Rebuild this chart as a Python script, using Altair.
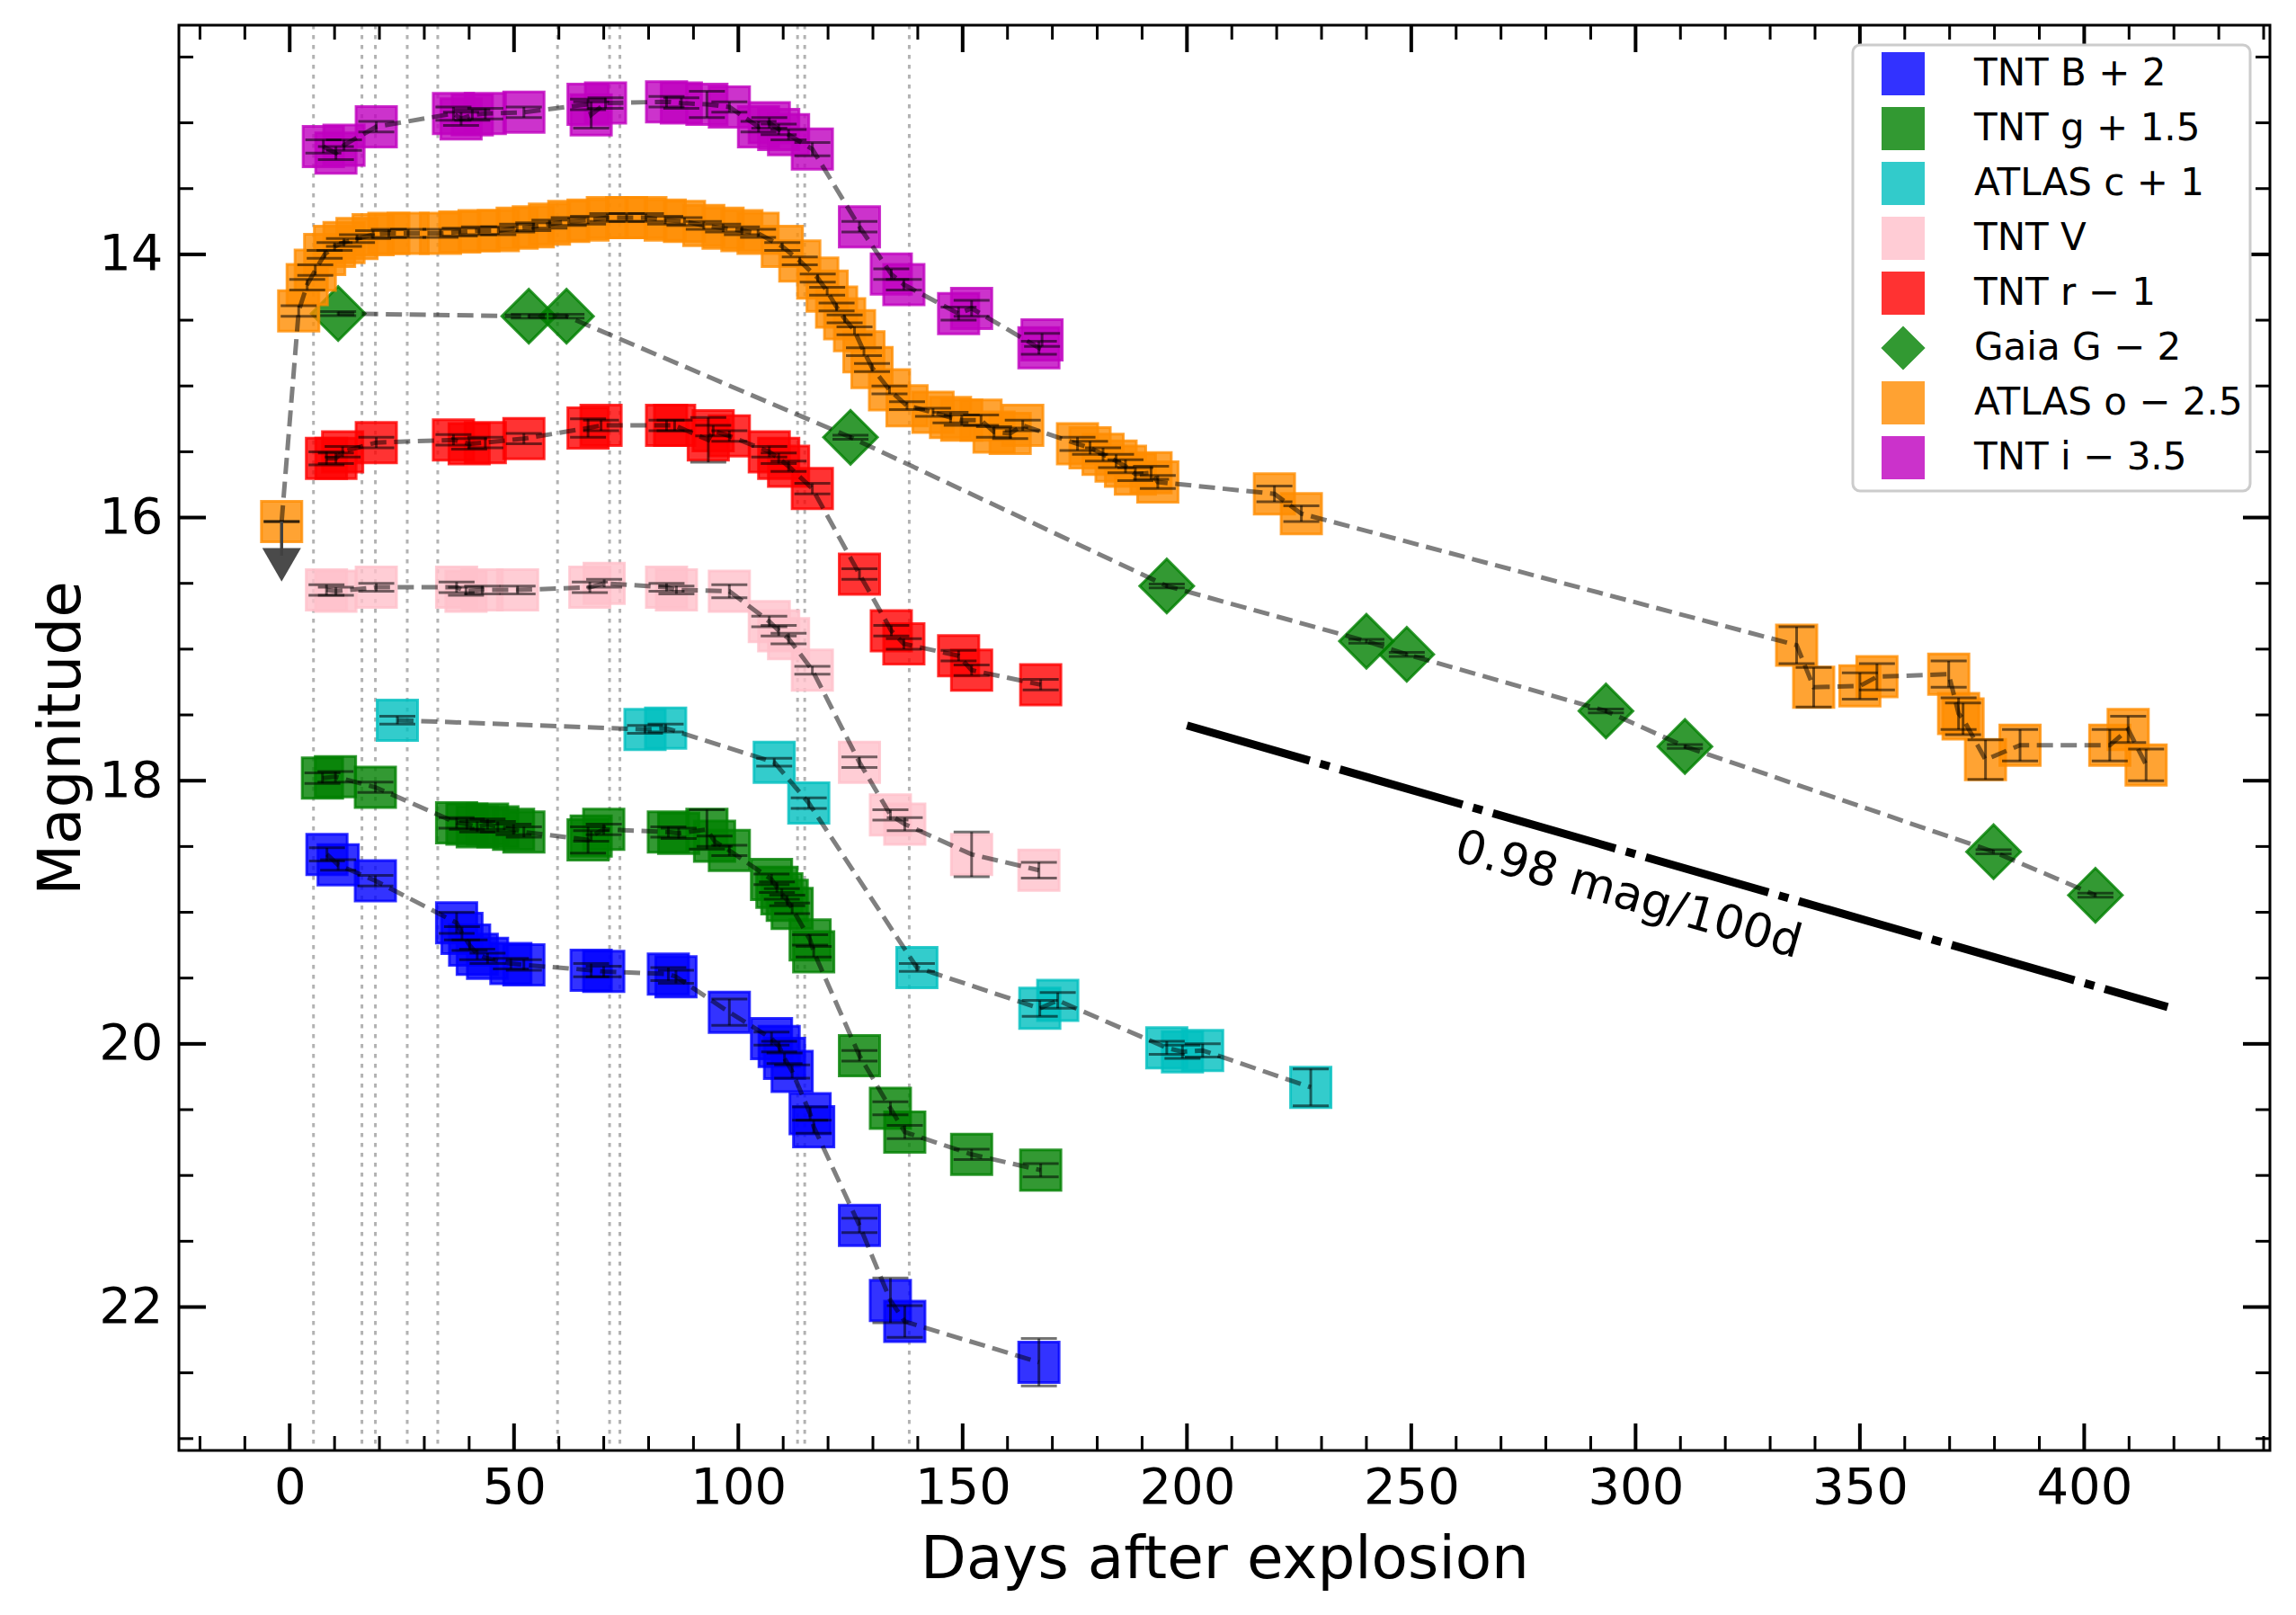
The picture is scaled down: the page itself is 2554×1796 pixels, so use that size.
import altair as alt
import pandas as pd

# ---------------- data ----------------
SERIES = ["TNT B + 2", "TNT g + 1.5", "ATLAS c + 1", "TNT V", "TNT r − 1",
          "Gaia G − 2", "ATLAS o − 2.5", "TNT i − 3.5"]
COLORS = ["#0000ff", "#008000", "#00bfbf", "#ffc0cb", "#ff0000",
          "#008000", "#ff8c00", "#bf00bf"]
SHAPES = ["square", "square", "square", "square", "square",
          "diamond", "square", "square"]

B_DAY = [8.3, 10.8, 19.1, 37.2, 38.4, 40.1, 41.8, 44.1, 49.3, 52.2, 67.2, 70.0, 84.4, 86.1,
         98.0, 107.4, 109.1, 110.3, 112.0, 116.0, 116.8, 127.0, 133.9, 137.1, 167.0]
B_MAG = [18.56, 18.64, 18.76, 19.08, 19.16, 19.25, 19.32, 19.35, 19.39, 19.40, 19.44, 19.45,
         19.47, 19.49, 19.76, 19.96, 20.02, 20.11, 20.21, 20.53, 20.63, 21.38, 21.95, 22.11, 22.42]
B_ERR = [0.05, 0.04, 0.04, 0.08, 0.05, 0.04, 0.04, 0.04, 0.04, 0.04, 0.05, 0.04, 0.05, 0.05,
         0.1, 0.05, 0.04, 0.04, 0.05, 0.05, 0.05, 0.055, 0.17, 0.12, 0.18]

G_DAY = [7.3, 10.2, 19.1, 37.2, 39.5, 41.8, 44.1, 46.4, 49.9, 52.2, 66.5, 67.2, 70.0, 84.4,
         86.7, 93.0, 94.7, 98.0, 107.4, 108.6, 109.7, 110.9, 112.0, 116.0, 116.8, 127.0,
         133.9, 137.1, 152.0, 167.4]
G_MAG = [17.98, 17.97, 18.05, 18.32, 18.33, 18.35, 18.33, 18.35, 18.37, 18.39, 18.45, 18.42,
         18.37, 18.39, 18.40, 18.37, 18.46, 18.53, 18.75, 18.81, 18.86, 18.91, 18.97, 19.21,
         19.30, 20.09, 20.49, 20.67, 20.84, 20.96]
G_ERR = [0.04, 0.04, 0.04, 0.04, 0.04, 0.04, 0.04, 0.04, 0.04, 0.04, 0.1, 0.04, 0.04, 0.04,
         0.04, 0.15, 0.04, 0.04, 0.04, 0.04, 0.04, 0.04, 0.04, 0.04, 0.04, 0.04, 0.05, 0.05,
         0.04, 0.05]

C_DAY = [24.0, 79.2, 83.8, 108.0, 115.7, 139.8, 167.2, 171.2, 195.5, 199.0, 203.5, 227.6]
C_MAG = [17.54, 17.61, 17.60, 17.86, 18.17, 19.42, 19.73, 19.67, 20.03, 20.06, 20.05, 20.33]
C_ERR = [0.03, 0.03, 0.03, 0.03, 0.04, 0.03, 0.06, 0.06, 0.05, 0.05, 0.05, 0.14]

V_DAY = [8.2, 10.3, 19.3, 37.2, 39.3, 42.9, 50.8, 66.9, 70.1, 84.0, 86.2, 98.0, 106.9, 109.0,
         111.2, 116.5, 127.0, 133.9, 137.1, 152.0, 167.0]
V_MAG = [16.55, 16.56, 16.53, 16.53, 16.56, 16.55, 16.55, 16.53, 16.50, 16.53, 16.55, 16.56,
         16.79, 16.86, 16.92, 17.16, 17.86, 18.26, 18.33, 18.56, 18.68]
V_ERR = [0.04, 0.03, 0.03, 0.04, 0.03, 0.03, 0.03, 0.04, 0.03, 0.03, 0.03, 0.05, 0.04, 0.04,
         0.04, 0.03, 0.04, 0.04, 0.05, 0.17, 0.06]

R_DAY = [8.2, 10.3, 11.8, 19.3, 36.5, 40.0, 43.6, 52.2, 66.5, 69.4, 84.0, 85.8, 93.3, 94.4,
         98.0, 106.9, 109.0, 111.2, 116.5, 127.0, 134.1, 136.9, 149.1, 152.0, 167.4]
R_MAG = [15.55, 15.55, 15.50, 15.43, 15.41, 15.44, 15.43, 15.40, 15.32, 15.30, 15.30, 15.30,
         15.41, 15.34, 15.38, 15.50, 15.55, 15.61, 15.78, 16.43, 16.86, 16.96, 17.05, 17.16, 17.27]
R_ERR = [0.05, 0.04, 0.04, 0.04, 0.04, 0.04, 0.04, 0.04, 0.07, 0.04, 0.04, 0.04, 0.17, 0.04,
         0.04, 0.04, 0.04, 0.04, 0.04, 0.04, 0.04, 0.04, 0.04, 0.04, 0.04]

GAIA_DAY = [10.8, 53.3, 61.7, 125.0, 195.5, 240.0, 249.0, 293.4, 311.0, 379.8, 402.5]
GAIA_MAG = [14.45, 14.47, 14.47, 15.39, 16.52, 16.94, 17.04, 17.47, 17.74, 18.54, 18.87]
GAIA_ERR = [0.015, 0.015, 0.015, 0.015, 0.015, 0.015, 0.015, 0.015, 0.015, 0.015, 0.015]

O_DAY = [-1.8, 2.0, 3.9, 5.7, 7.8, 10.0, 12.1, 15.0, 18.6, 22.1, 26.4, 33.6, 37.9, 42.2, 46.5,
         50.7, 54.3, 57.9, 62.2, 66.5, 70.8, 75.1, 79.4, 83.7, 88.0, 92.3, 96.6, 100.8, 104.4,
         109.8, 113.7, 117.7, 119.8, 121.9, 123.7, 125.9, 128.0, 129.8, 133.7, 137.6,
         143.4, 147.3, 149.8, 154.1, 157.0, 160.6, 163.4,
         175.6, 178.4, 181.3, 184.2, 186.3, 188.5, 192.0, 193.5,
         219.5, 225.5,
         335.9, 339.7, 350.0, 353.8, 369.8, 372.0, 373.0, 378.0, 385.7, 405.7, 409.8, 413.8]
O_MAG = [16.03, 14.43, 14.23, 14.12, 14.00, 13.94, 13.91, 13.88, 13.85, 13.84, 13.84, 13.84,
         13.83, 13.82, 13.82, 13.80, 13.79, 13.77, 13.75, 13.74, 13.72, 13.72, 13.72, 13.74,
         13.75, 13.78, 13.80, 13.82, 13.84,
         13.94, 14.05, 14.18, 14.28, 14.40, 14.49, 14.58, 14.74, 14.86, 15.03, 15.15,
         15.20, 15.24, 15.26, 15.26, 15.35, 15.36, 15.30,
         15.44, 15.47, 15.52, 15.57, 15.61, 15.67, 15.66, 15.73,
         15.82, 15.97,
         16.97, 17.29, 17.28, 17.21, 17.19, 17.49, 17.53, 17.84, 17.73, 17.73, 17.61, 17.88]
O_ERR = [0.0, 0.04, 0.04, 0.04, 0.03, 0.03, 0.03, 0.03, 0.03, 0.03, 0.03, 0.03, 0.03, 0.03,
         0.03, 0.03, 0.03, 0.03, 0.03, 0.03, 0.03, 0.03, 0.03, 0.03, 0.03, 0.03, 0.03, 0.03, 0.03,
         0.03, 0.03, 0.03, 0.03, 0.03, 0.03, 0.03, 0.03, 0.03, 0.03, 0.03,
         0.03, 0.04, 0.04, 0.04, 0.04, 0.04, 0.04,
         0.05, 0.05, 0.05, 0.05, 0.05, 0.05, 0.05, 0.05,
         0.06, 0.06,
         0.14, 0.15, 0.1, 0.1, 0.1, 0.12, 0.12, 0.15, 0.12, 0.12, 0.1, 0.12]

I_DAY = [7.5, 10.3, 12.1, 19.3, 36.5, 38.2, 40.7, 43.6, 52.2, 66.5, 67.2, 70.4, 84.0, 87.3,
         93.0, 98.0, 104.5, 106.9, 109.0, 111.2, 116.5, 127.0, 134.1, 136.9, 149.1, 152.0,
         167.0, 167.7]
I_MAG = [13.18, 13.23, 13.17, 13.03, 12.93, 12.97, 12.94, 12.93, 12.92, 12.86, 12.94, 12.85,
         12.84, 12.85, 12.86, 12.88, 13.03, 13.00, 13.05, 13.09, 13.20, 13.79, 14.15, 14.23,
         14.45, 14.41, 14.71, 14.65]
I_ERR = [0.05, 0.05, 0.04, 0.04, 0.05, 0.05, 0.04, 0.04, 0.04, 0.04, 0.1, 0.04, 0.04, 0.04,
         0.1, 0.04, 0.04, 0.04, 0.04, 0.04, 0.05, 0.04, 0.04, 0.04, 0.05, 0.06, 0.05, 0.05]

# upper limit (ATLAS o, before detection)
UL_DAY = [-1.8]
UL_MAG = [16.03]

# epochs marked by vertical dotted lines
VLINE_DAYS = [5.3, 16.1, 19.1, 26.2, 33.0, 59.7, 71.3, 73.6, 113.2, 114.8, 138.1]

# decline-rate guide line and its label
DECAY_DAY = [200.0, 418.6]
DECAY_MAG = [17.58, 19.72]
ANNOT_DAY = [298.4]
ANNOT_MAG = [18.87]
ANNOT_TEXT = ["0.98 mag/100d"]

# axis ticks
X_MAJOR = [0, 50, 100, 150, 200, 250, 300, 350, 400]
X_MINOR = [-20, -10, 10, 20, 30, 40, 60, 70, 80, 90, 110, 120, 130, 140, 160, 170, 180, 190,
           210, 220, 230, 240, 260, 270, 280, 290, 310, 320, 330, 340, 360, 370, 380, 390,
           410, 420, 430, 440]
Y_MAJOR = [14, 16, 18, 20, 22]
Y_MINOR = [12.5, 13.0, 13.5, 14.5, 15.0, 15.5, 16.5, 17.0, 17.5, 18.5, 19.0, 19.5,
           20.5, 21.0, 21.5, 22.5, 23.0]

# ---------------- build tables ----------------
groups = [(SERIES[0], B_DAY, B_MAG, B_ERR), (SERIES[1], G_DAY, G_MAG, G_ERR),
          (SERIES[2], C_DAY, C_MAG, C_ERR), (SERIES[3], V_DAY, V_MAG, V_ERR),
          (SERIES[4], R_DAY, R_MAG, R_ERR), (SERIES[5], GAIA_DAY, GAIA_MAG, GAIA_ERR),
          (SERIES[6], O_DAY, O_MAG, O_ERR), (SERIES[7], I_DAY, I_MAG, I_ERR)]
frames = [pd.DataFrame({"series": n, "day": d, "mag": m, "err": e}) for n, d, m, e in groups]
df = pd.concat(frames, ignore_index=True)
df["lo"] = df["mag"] - df["err"]
df["hi"] = df["mag"] + df["err"]

W, H = 2326, 1585
FONT = "DejaVu Sans"

xscale = alt.Scale(domain=[-24.7, 441.4], nice=False, zero=False)
yscale = alt.Scale(domain=[12.258, 23.09], reverse=True, nice=False, zero=False)

xaxis = alt.Axis(values=X_MAJOR, ticks=False, domain=False, grid=False,
                 labelFontSize=56, labelPadding=14, labelFont=FONT, labelColor="black",
                 title="Days after explosion", titleFontSize=66, titleFontWeight="normal",
                 titleFont=FONT, titleColor="black", titleBaseline="alphabetic",
                 titleX=W / 2, titleY=141, titleAlign="center")
yaxis = alt.Axis(values=Y_MAJOR, ticks=False, domain=False, grid=False,
                 labelFontSize=56, labelPadding=18, labelFont=FONT, labelColor="black",
                 title="Magnitude", titleFontSize=66, titleFontWeight="normal",
                 titleFont=FONT, titleColor="black", titleAngle=270,
                 titleBaseline="alphabetic", titleX=-111, titleY=H / 2, titleAlign="center")


def X(field):
    return alt.X(field, type="quantitative", scale=xscale, axis=xaxis)


def Y(field):
    return alt.Y(field, type="quantitative", scale=yscale, axis=yaxis)


leg = alt.Legend(title=None)
color_scale = alt.Scale(domain=SERIES, range=COLORS)
shape_scale = alt.Scale(domain=SERIES, range=SHAPES)

vlines = alt.Chart(pd.DataFrame({"day": VLINE_DAYS})).mark_rule(
    color="black", opacity=0.3, strokeWidth=3, strokeDash=[4.5, 6.5]
).encode(x=X("day"))

points = alt.Chart(df).mark_point(
    filled=True, fillOpacity=0.8, strokeOpacity=0.8, strokeWidth=3
).encode(
    x=X("day"), y=Y("mag"),
    color=alt.Color("series:N", scale=color_scale, legend=leg),
    stroke=alt.Stroke("series:N", scale=color_scale, legend=leg),
    shape=alt.Shape("series:N", scale=shape_scale, legend=leg),
    size=alt.condition(alt.datum.series == "Gaia G − 2", alt.value(3600), alt.value(2025)),
)

errbars = alt.Chart(df).mark_rule(color="black", opacity=0.55, strokeWidth=3).encode(
    x=X("day"), y=Y("lo"), y2="hi"
)
caps = alt.Chart(df).transform_fold(["lo", "hi"], as_=["k", "v"]).mark_tick(
    orient="horizontal", size=40, thickness=3, color="black", opacity=0.55
).encode(x=X("day"), y=Y("v"))

lines = alt.Chart(df).mark_line(
    color="black", opacity=0.5, strokeWidth=5, strokeDash=[18, 8.5]
).encode(x=X("day"), y=Y("mag"), detail="series:N", order="day:Q")

ul = pd.DataFrame({"day": UL_DAY, "mag": UL_MAG})
ul_rule = alt.Chart(ul).transform_calculate(end="datum.mag + 0.26").mark_rule(
    color="#404040", strokeWidth=3.5
).encode(x=X("day"), y=Y("mag"), y2="end:Q")
ul_tri = alt.Chart(ul).transform_calculate(tip="datum.mag + 0.33").mark_point(
    shape="triangle-down", filled=True, size=1850, color="#404040", opacity=0.95
).encode(x=X("day"), y=Y("tip"))

decay = alt.Chart(pd.DataFrame({"day": DECAY_DAY, "mag": DECAY_MAG})).mark_line(
    color="black", strokeWidth=9, strokeDash=[142, 12, 11, 12]
).encode(x=X("day"), y=Y("mag"))

annot = alt.Chart(pd.DataFrame({"day": ANNOT_DAY, "mag": ANNOT_MAG, "t": ANNOT_TEXT})).mark_text(
    angle=16, fontSize=52, font=FONT, color="black", align="center", baseline="middle"
).encode(x=X("day"), y=Y("mag"), text="t:N")

# inward ticks on all four sides
xmaj = alt.Chart(pd.DataFrame({"t": X_MAJOR}))
xmin = alt.Chart(pd.DataFrame({"t": X_MINOR}))
ymaj = alt.Chart(pd.DataFrame({"t": Y_MAJOR}))
ymin = alt.Chart(pd.DataFrame({"t": Y_MINOR}))
LMAJ, LMIN = 30, 16
tick_layers = [
    xmaj.mark_rule(color="black", strokeWidth=4).encode(x=X("t"), y=alt.value(H), y2=alt.value(H - LMAJ)),
    xmin.mark_rule(color="black", strokeWidth=3).encode(x=X("t"), y=alt.value(H), y2=alt.value(H - LMIN)),
    xmaj.mark_rule(color="black", strokeWidth=4).encode(x=X("t"), y=alt.value(0), y2=alt.value(LMAJ)),
    xmin.mark_rule(color="black", strokeWidth=3).encode(x=X("t"), y=alt.value(0), y2=alt.value(LMIN)),
    ymaj.mark_rule(color="black", strokeWidth=4).encode(y=Y("t"), x=alt.value(0), x2=alt.value(LMAJ)),
    ymin.mark_rule(color="black", strokeWidth=3).encode(y=Y("t"), x=alt.value(0), x2=alt.value(LMIN)),
    ymaj.mark_rule(color="black", strokeWidth=4).encode(y=Y("t"), x=alt.value(W - LMAJ), x2=alt.value(W)),
    ymin.mark_rule(color="black", strokeWidth=3).encode(y=Y("t"), x=alt.value(W - LMIN), x2=alt.value(W)),
]

chart = alt.layer(
    vlines, points, errbars, caps, lines, ul_rule, ul_tri, decay, annot, *tick_layers
).properties(
    width=W, height=H,
    autosize=alt.AutoSizeParams(type="none"),
    padding={"left": 191, "top": 20, "right": 20, "bottom": 180},
).configure_view(
    stroke="black", strokeWidth=3
).configure_legend(
    orient="top-right", offset=22, padding=8, fillColor="white",
    strokeColor="#cccccc", strokeWidth=3, cornerRadius=8,
    labelFontSize=42, labelFont=FONT, labelColor="black", labelLimit=1000,
    labelOffset=55, symbolOffset=24, rowPadding=3,
    symbolSize=2025, symbolOpacity=0.8, symbolStrokeWidth=3,
)

chart.save("out.html", embed_options={"renderer": "svg", "actions": False})
